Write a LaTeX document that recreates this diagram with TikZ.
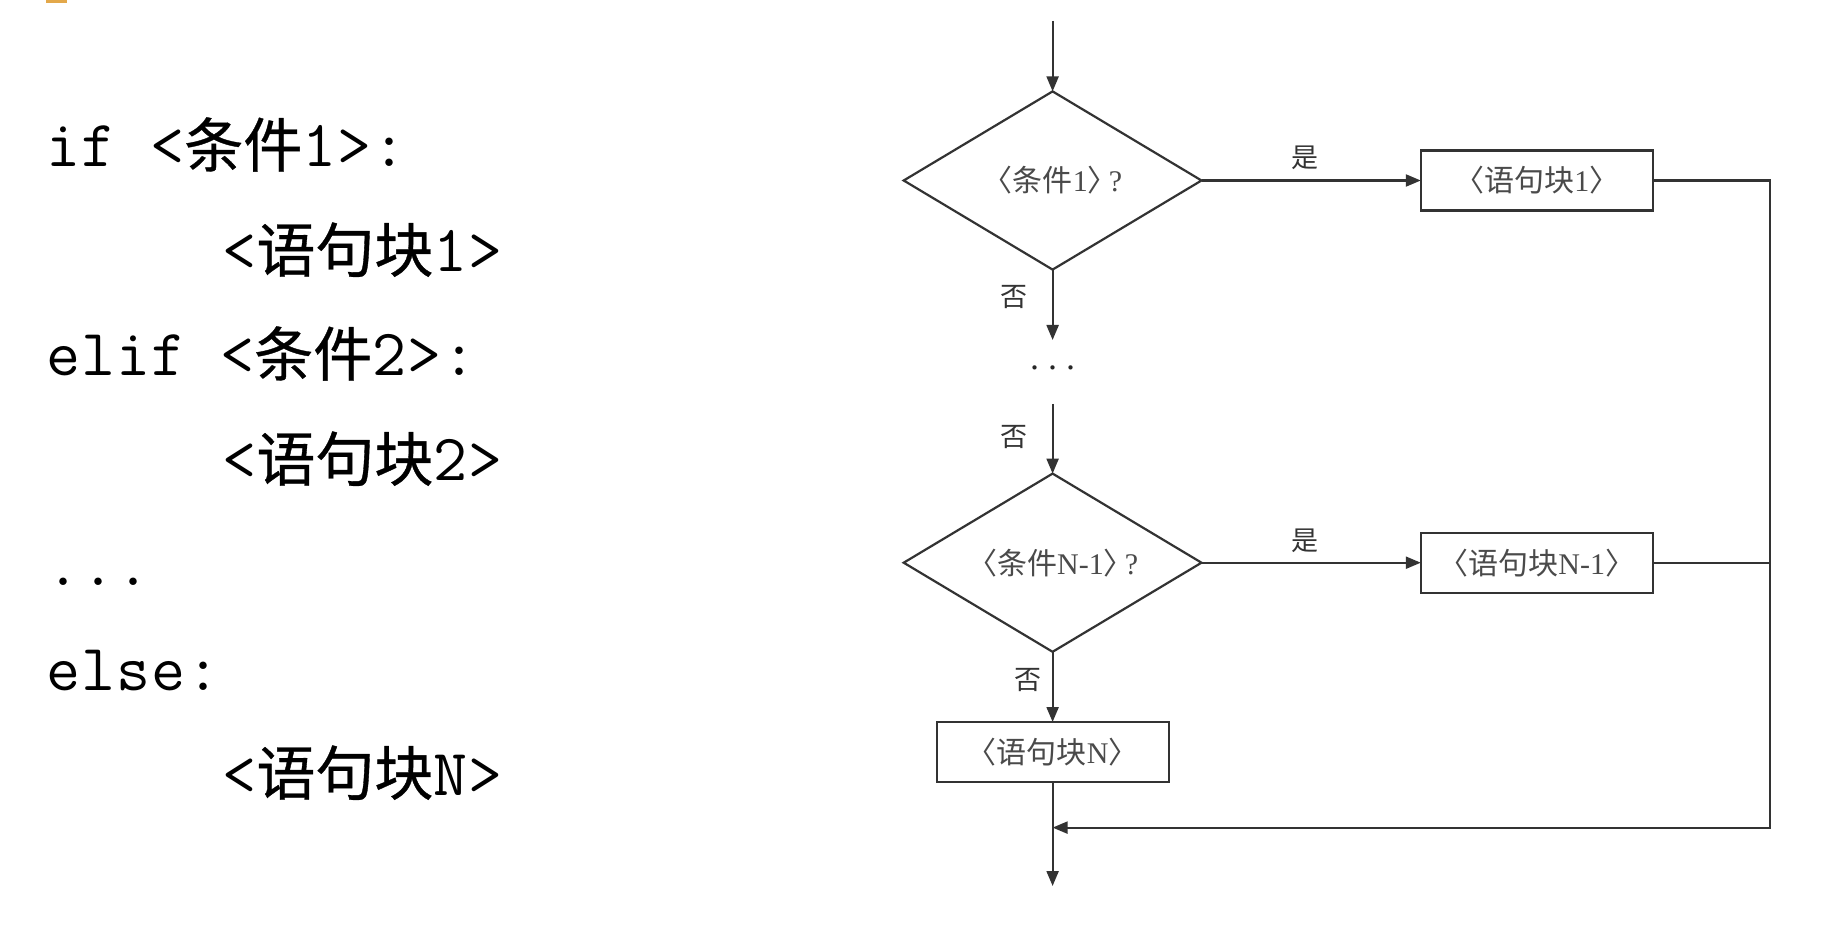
\documentclass[tikz,border=0pt]{standalone}
\usepackage{fontspec}
\setmainfont{Liberation Serif}
\newfontfamily\mono[LetterSpace=1.5]{Latin Modern Mono}
\newfontfamily\cjk{Noto Sans CJK SC}
\newfontfamily\cjkb[FakeBold=0.6]{Noto Sans CJK SC}
\newcommand\zh[1]{{\cjk #1}}
\newcommand\zhb[1]{{\cjkb\fontsize{29.5}{32}\selectfont #1}}
\usetikzlibrary{shapes.geometric,arrows.meta}
\definecolor{linec}{HTML}{333333}
\definecolor{txtc}{HTML}{4A4A4A}
\definecolor{orangemark}{HTML}{E3A84A}
\tikzset{
  code/.style={anchor=base west, inner sep=0pt, font=\mono\fontsize{33}{34}\selectfont, text=black},
  dia/.style={diamond, draw=linec, line width=1.1pt, minimum width=148.9pt, minimum height=89.1pt, aspect=1.67, inner sep=0pt, outer sep=0pt, text=txtc, font=\fontsize{15}{18}\selectfont},
  blk/.style={rectangle, draw=linec, line width=1.1pt, minimum width=116pt, minimum height=30pt, inner sep=0pt, outer sep=0pt, text=txtc, font=\fontsize{15}{18}\selectfont},
  lab/.style={inner sep=0pt, text=black!80, font=\fontsize{13.5}{16}\selectfont},
  conn/.style={draw=linec, line width=1.1pt},
  arr/.style={conn, -{Triangle[length=7.5pt,width=6pt]}}
}
\begin{document}
\begin{tikzpicture}[x=0.5pt, y=-0.5pt]
\useasboundingbox (0,0) rectangle (1838,930);
\fill[white] (0,0) rectangle (1838,930);
\fill[orangemark] (46,0) rectangle (67,3);
% code
\node[code] (l1) at (46,167) {if <\zhb{条件}1>:};
\node[code] (l2) at (222,272) {<\zhb{语句块}1>};
\node[code] (l3) at (46,376) {elif <\zhb{条件}2>:};
\node[code] (l4) at (222,481) {<\zhb{语句块}2>};
\node[code] (l5) at (46,586) {...};
\node[code] (l6) at (46,690) {else:};
\node[code] (l7) at (222,795) {<\zhb{语句块}N>};
% flowchart
\coordinate (top) at (1052.6,21);
\node[dia] (d1) at (1052.6,180.5) {\zh{〈条件}1\zh{〉}\kern-.3em?};
\node[blk] (b1) at (1536.8,180.5) {\zh{〈语句块}1\zh{〉}};
\coordinate (c1) at (1052.6,340);
\node[anchor=base, inner sep=0pt, text=black!85, font=\fontsize{18}{20}\selectfont] (dots) at (1052.6,369.5) {.\ .\ .};
\coordinate (c2) at (1052.6,404);
\node[dia] (d2) at (1052.6,562.7) {\zh{〈条件}N-1\zh{〉}\kern-.3em?};
\node[blk] (b2) at (1536.8,562.7) {\zh{〈语句块}N-1\zh{〉}};
\node[blk] (bn) at (1052.6,752) {\zh{〈语句块}N\zh{〉}};
\coordinate (m) at (1052.6,827.6);
\coordinate (rb) at (1770,827.6);
\coordinate (end) at (1052.6,886);
\node[lab] (y1) at (1304.7,158) {\zh{是}};
\node[lab] (y2) at (1304.7,541) {\zh{是}};
\node[lab] (n1) at (1014,297) {\zh{否}};
\node[lab] (n2) at (1014,437) {\zh{否}};
\node[lab] (n3) at (1028,680) {\zh{否}};
\draw[arr] (top) -- (d1.north);
\draw[arr] (d1.east) -- (b1.west);
\draw[arr] (d1.south) -- (c1);
\draw[arr] (c2) -- (d2.north);
\draw[arr] (d2.east) -- (b2.west);
\draw[arr] (d2.south) -- (bn.north);
\draw[arr] (b1.east) -| (rb) -- (m);
\draw[conn] (b2.east) -- (b2.east -| rb);
\draw[conn] (bn.south) -- (m);
\draw[arr] (m) -- (end);
\end{tikzpicture}
\end{document}
